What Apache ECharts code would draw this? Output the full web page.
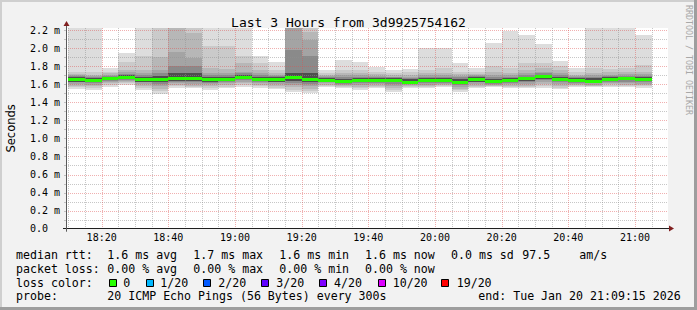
<!DOCTYPE html>
<html><head><meta charset="utf-8">
<script src="https://cdn.jsdelivr.net/npm/echarts@6/dist/echarts.min.js"></script>
<style>html,body{margin:0;padding:0;background:#f2f2f2;overflow:hidden}#c{width:697px;height:310px}</style>
</head><body><div id="c"></div>
<script>
// ---------------- data ----------------
const titleText = 'Last 3 Hours from 3d9925754162';
const yAxisName = 'Seconds';
const xTickLabels = ['18:20','18:40','19:00','19:20','19:40','20:00','20:20','20:40','21:00'];
const yTickLabels = ['0.0','0.2 m','0.4 m','0.6 m','0.8 m','1.0 m','1.2 m','1.4 m','1.6 m','1.8 m','2.0 m','2.2 m'];
// end time of each 5-minute step
const stepEnds = ['18:15','18:20','18:25','18:30','18:35','18:40','18:45','18:50','18:55','19:00',
  '19:05','19:10','19:15','19:20','19:25','19:30','19:35','19:40','19:45','19:50','19:55','20:00',
  '20:05','20:10','20:15','20:20','20:25','20:30','20:35','20:40','20:45','20:50','20:55','21:00','21:05'];
// sorted ping values (ms) per step: outer ones are the smoke edges
const pingMax = [2.30,2.30,1.78,1.95,2.30,2.30,2.30,2.30,2.30,2.30,2.30,1.91,1.85,2.30,2.30,1.76,1.87,1.85,1.79,1.76,1.77,2.00,2.00,1.83,1.78,2.06,2.19,2.15,2.05,1.86,1.78,2.30,2.30,2.30,2.15];
const ping19  = [1.74,1.73,1.74,1.85,1.91,2.30,2.30,2.30,2.02,2.02,1.91,1.83,1.76,2.30,2.30,1.72,1.76,1.76,1.74,1.72,1.73,1.76,1.78,1.74,1.74,1.80,1.78,1.83,1.83,1.80,1.73,1.78,1.77,1.78,1.81];
const ping18  = [1.71,1.70,1.72,1.76,1.76,1.905,2.30,2.17,1.78,1.77,1.83,1.76,1.72,2.30,2.18,1.70,1.72,1.72,1.71,1.70,1.70,1.72,1.72,1.71,1.71,1.73,1.72,1.76,1.78,1.76,1.70,1.72,1.73,1.73,1.74];
const ping17  = [1.70,1.69,1.705,1.73,1.72,1.76,1.96,1.89,1.72,1.72,1.74,1.72,1.70,2.30,2.09,1.69,1.70,1.70,1.69,1.685,1.68,1.70,1.70,1.69,1.70,1.70,1.70,1.72,1.74,1.72,1.69,1.70,1.70,1.71,1.71];
const ping16  = [1.69,1.68,1.695,1.715,1.70,1.72,1.80,1.80,1.70,1.70,1.72,1.70,1.69,1.98,1.91,1.68,1.68,1.685,1.68,1.675,1.67,1.685,1.685,1.675,1.69,1.68,1.685,1.70,1.72,1.70,1.675,1.685,1.69,1.695,1.695];
const ping15  = [1.675,1.67,1.685,1.70,1.68,1.69,1.72,1.72,1.68,1.685,1.70,1.685,1.68,1.72,1.72,1.67,1.66,1.67,1.67,1.665,1.655,1.67,1.67,1.66,1.675,1.66,1.67,1.685,1.705,1.68,1.665,1.665,1.68,1.685,1.68];
const medianRtt = [1.655,1.648,1.672,1.68,1.655,1.655,1.672,1.67,1.655,1.662,1.68,1.66,1.655,1.675,1.66,1.65,1.635,1.645,1.648,1.643,1.627,1.643,1.645,1.628,1.654,1.632,1.647,1.668,1.69,1.66,1.642,1.64,1.663,1.67,1.66];
const ping6   = [1.63,1.625,1.65,1.66,1.63,1.62,1.64,1.64,1.63,1.635,1.655,1.64,1.63,1.635,1.625,1.63,1.615,1.62,1.625,1.62,1.61,1.62,1.625,1.605,1.63,1.615,1.625,1.64,1.66,1.635,1.62,1.62,1.64,1.645,1.635];
const ping5   = [1.62,1.61,1.64,1.65,1.62,1.60,1.625,1.625,1.615,1.625,1.645,1.63,1.62,1.615,1.60,1.62,1.605,1.61,1.615,1.60,1.60,1.61,1.615,1.59,1.62,1.605,1.615,1.625,1.645,1.62,1.61,1.61,1.63,1.63,1.625];
const ping4   = [1.60,1.59,1.625,1.635,1.60,1.575,1.61,1.60,1.60,1.61,1.63,1.61,1.60,1.59,1.575,1.61,1.59,1.59,1.60,1.58,1.59,1.595,1.60,1.57,1.605,1.595,1.60,1.605,1.62,1.60,1.60,1.595,1.615,1.61,1.605];
const ping3   = [1.585,1.575,1.61,1.62,1.58,1.55,1.59,1.585,1.575,1.59,1.61,1.59,1.58,1.565,1.55,1.595,1.575,1.57,1.585,1.56,1.575,1.58,1.59,1.55,1.585,1.585,1.585,1.585,1.60,1.58,1.59,1.585,1.60,1.595,1.59];
const ping2   = [1.57,1.56,1.595,1.61,1.56,1.52,1.575,1.57,1.56,1.57,1.59,1.575,1.56,1.54,1.53,1.585,1.565,1.555,1.57,1.54,1.565,1.565,1.58,1.535,1.57,1.575,1.57,1.57,1.575,1.56,1.58,1.575,1.585,1.58,1.575];
const pingMin = [1.545,1.535,1.57,1.59,1.536,1.49,1.555,1.555,1.536,1.554,1.573,1.554,1.545,1.517,1.50,1.573,1.554,1.536,1.554,1.517,1.554,1.554,1.573,1.517,1.554,1.573,1.554,1.554,1.554,1.545,1.573,1.564,1.573,1.564,1.554];

const legendRtt  = ['median rtt:','1.6 ms avg','1.7 ms max','1.6 ms min','1.6 ms now','0.0 ms sd','97.5','am/s'];
const legendLoss = ['packet loss:','0.00 % avg','0.00 % max','0.00 % min','0.00 % now'];
const lossTitle = 'loss color:';
const lossLabels = ['0','1/20','2/20','3/20','4/20','10/20','19/20'];
const lossColors = ['#26ff00','#00b8ff','#0059ff','#5e00ff','#7e00ff','#dd00ff','#ff0000'];
const probeRow = ['probe:','20 ICMP Echo Pings (56 Bytes) every 300s','end: Tue Jan 20 21:09:15 2026'];
const creditText = 'RRDTOOL / TOBI OETIKER';

// ---------------- layout / style ----------------
const MONO = '"DejaVu Sans Mono", monospace';
const toMin = s => { const p = s.split(':').map(Number); return (p[0] - 18) * 60 + p[1]; };
const stepLen = 5;
const xMin = 9.6, xMax = 189.9, yMax = 2.2226;
const layerColors = ['#dddddd','#cacaca','#b7b7b7','#a4a4a4','#8a8a8a','#4e4e4e'];
const layers = [[pingMin,pingMax],[ping2,ping19],[ping3,ping18],[ping4,ping17],[ping5,ping16],[ping6,ping15]];
const gridMinorColor = 'rgba(143,143,143,0.5)';
const gridMajorColor = 'rgba(222,79,79,0.45)';

const smokeData = [];
layers.forEach((pair, k) => {
  stepEnds.forEach((t, i) => {
    const e = toMin(t);
    smokeData.push([e - stepLen, e, pair[0][i], pair[1][i], k]);
  });
});
const medianData = stepEnds.map((t, i) => [toMin(t) - stepLen, toMin(t), medianRtt[i]]);

const xTickVals = xTickLabels.map(toMin);
const yTickVals = yTickLabels.map(s => parseFloat(s));

function clipRect(r, cs) {
  return echarts.graphic.clipRectByRect(r, {x: cs.x, y: cs.y, width: cs.width, height: cs.height});
}

const chart = echarts.init(document.getElementById('c'), null, {renderer: 'svg'});
chart.setOption({
  animation: false,
  backgroundColor: '#f2f2f2',
  title: {
    text: titleText, left: 'center', top: 11,
    textStyle: {fontFamily: MONO, fontSize: 13, fontWeight: 'normal', color: '#000'}
  },
  grid: {left: 67, right: 29, top: 28, bottom: 81.3, show: true, backgroundColor: '#ffffff', borderWidth: 0, containLabel: false, outerBoundsMode: 'none'},
  xAxis: {
    type: 'value', min: xMin, max: xMax,
    axisLine: {show: false}, axisTick: {show: false}, splitLine: {show: false},
    axisLabel: {
      customValues: xTickVals, margin: 4,
      fontFamily: MONO, fontSize: 10, color: '#000',
      formatter: v => xTickLabels[xTickVals.indexOf(v)]
    }
  },
  yAxis: {
    type: 'value', min: 0, max: yMax,
    name: yAxisName, nameLocation: 'middle', nameRotate: 90, nameGap: 50,
    nameTextStyle: {fontFamily: '"DejaVu Sans", sans-serif', fontSize: 11.5, color: '#000'},
    axisLine: {show: false}, axisTick: {show: false}, splitLine: {show: false},
    axisLabel: {
      customValues: yTickVals, margin: 37, align: 'left',
      fontFamily: MONO, fontSize: 10, color: '#000',
      formatter: v => yTickLabels[yTickVals.indexOf(v)]
    }
  },
  series: [
    {
      type: 'custom', name: 'smoke', z: 2, clip: true,
      encode: {x: [0, 1], y: [2, 3]},
      data: smokeData,
      renderItem: (params, api) => {
        const a = api.coord([api.value(0), api.value(3)]);
        const b = api.coord([api.value(1), api.value(2)]);
        const x0 = Math.round(a[0]), x1 = Math.round(b[0]);
        const y0 = Math.round(a[1]), y1 = Math.round(b[1]);
        const r = clipRect({x: x0, y: y0, width: x1 - x0, height: y1 - y0}, params.coordSys);
        return r && {type: 'rect', shape: r, style: {fill: layerColors[api.value(4)]}};
      }
    },
    {
      type: 'custom', name: 'grid', z: 3, clip: false,
      data: [[0]],
      renderItem: (params, api) => {
        const cs = params.coordSys;
        const L = cs.x, R = cs.x + cs.width, T = cs.y, B = cs.y + cs.height;
        const ch = [];
        // horizontal grid (every 0.1 ms minor, every 0.2 ms major)
        for (let i = 1; i <= 22; i++) {
          const v = i / 10;
          const major = i % 2 === 0;
          const y = Math.round(api.coord([xMin, v])[1]) + 0.5;
          ch.push({type: 'line', shape: {x1: L + 1, y1: y, x2: R, y2: y},
            style: {stroke: major ? gridMajorColor : gridMinorColor, lineWidth: 1, lineDash: [1, 1]}});
          ch.push({type: 'line', shape: {x1: L - 3, y1: y, x2: L, y2: y},
            style: {stroke: gridMinorColor, lineWidth: 1}});
        }
        // vertical grid (every 5 min minor, every 20 min major)
        for (let m = 10; m <= 185; m += 5) {
          const major = m % 20 === 0;
          const x = Math.round(api.coord([m, 0])[0]) + 0.5;
          ch.push({type: 'line', shape: {x1: x, y1: T, x2: x, y2: B - 1},
            style: {stroke: major ? gridMajorColor : gridMinorColor, lineWidth: 1, lineDash: [1, 1]}});
        }
        // axes
        const xa = Math.round(api.coord([xMin, 0])[1]) - 0.5;
        const ya = L - 0.5;
        ch.push({type: 'line', shape: {x1: L - 4, y1: xa, x2: R + 2, y2: xa}, style: {stroke: '#1f1f1f', lineWidth: 1}});
        ch.push({type: 'line', shape: {x1: ya, y1: B + 3, x2: ya, y2: T - 3}, style: {stroke: '#5a5a5a', lineWidth: 1}});
        // arrows
        ch.push({type: 'polygon', shape: {points: [[R + 1, xa - 3], [R + 6, xa], [R + 1, xa + 3]]}, style: {fill: '#801f1f'}});
        ch.push({type: 'polygon', shape: {points: [[ya - 3, T - 2], [ya, T - 7], [ya + 3, T - 2]]}, style: {fill: '#801f1f'}});
        return {type: 'group', children: ch};
      }
    },
    {
      type: 'custom', name: 'median', z: 4, clip: true,
      encode: {x: [0, 1], y: 2},
      data: medianData,
      renderItem: (params, api) => {
        const a = api.coord([api.value(0), api.value(2)]);
        const b = api.coord([api.value(1), api.value(2)]);
        const x0 = Math.round(a[0]), x1 = Math.round(b[0]);
        const y = Math.round(a[1]);
        return {type: 'rect', shape: {x: x0, y: y - 1, width: x1 - x0, height: 3}, style: {fill: lossColors[0]}};
      }
    }
  ],
  graphic: (function () {
    const els = [];
    const txt = (x, y, s, extra) => els.push(Object.assign({
      type: 'text', x: x, y: y,
      style: {text: s, font: '11.6px ' + MONO, fill: '#000', verticalAlign: 'middle', align: 'left'}
    }, extra || {}));
    // frame shading
    els.push({type: 'rect', shape: {x: 0, y: 0, width: 697, height: 2}, style: {fill: '#cfcfcf'}});
    els.push({type: 'rect', shape: {x: 0, y: 0, width: 2, height: 310}, style: {fill: '#cfcfcf'}});
    els.push({type: 'rect', shape: {x: 0, y: 307, width: 697, height: 3}, style: {fill: '#9e9e9e'}});
    els.push({type: 'rect', shape: {x: 694, y: 0, width: 3, height: 310}, style: {fill: '#9e9e9e'}});
    // legend rows
    const rttX = [16, 107.3, 193.3, 279.3, 365, 451, 522.3, 579.3];
    legendRtt.forEach((s, i) => txt(rttX[i], 254.5, s));
    const lossX = [16, 107.3, 193.3, 279.3, 365];
    legendLoss.forEach((s, i) => txt(lossX[i], 268.5, s));
    txt(16, 282.5, lossTitle);
    const boxX = [109, 145.7, 203.3, 261, 319, 377.7, 441];
    const labX = [123.3, 160.3, 218.3, 276.3, 334, 392.7, 456.7];
    lossLabels.forEach((s, i) => {
      els.push({type: 'rect', shape: {x: Math.round(boxX[i]) + 0.5, y: 279.5, width: 7, height: 7},
        style: {fill: lossColors[i], stroke: '#000', lineWidth: 1}});
      txt(labX[i], 282.5, s);
    });
    const probeX = [16, 107.3, 478.3];
    probeRow.forEach((s, i) => txt(probeX[i], 296, s));
    // credit
    els.push({type: 'text', x: 688.5, y: 60, rotation: -Math.PI / 2,
      style: {text: creditText, font: '8.3px ' + MONO, fill: '#a8a8a8', align: 'center', verticalAlign: 'middle'}});
    return els;
  })()
});
</script>
</body></html>
